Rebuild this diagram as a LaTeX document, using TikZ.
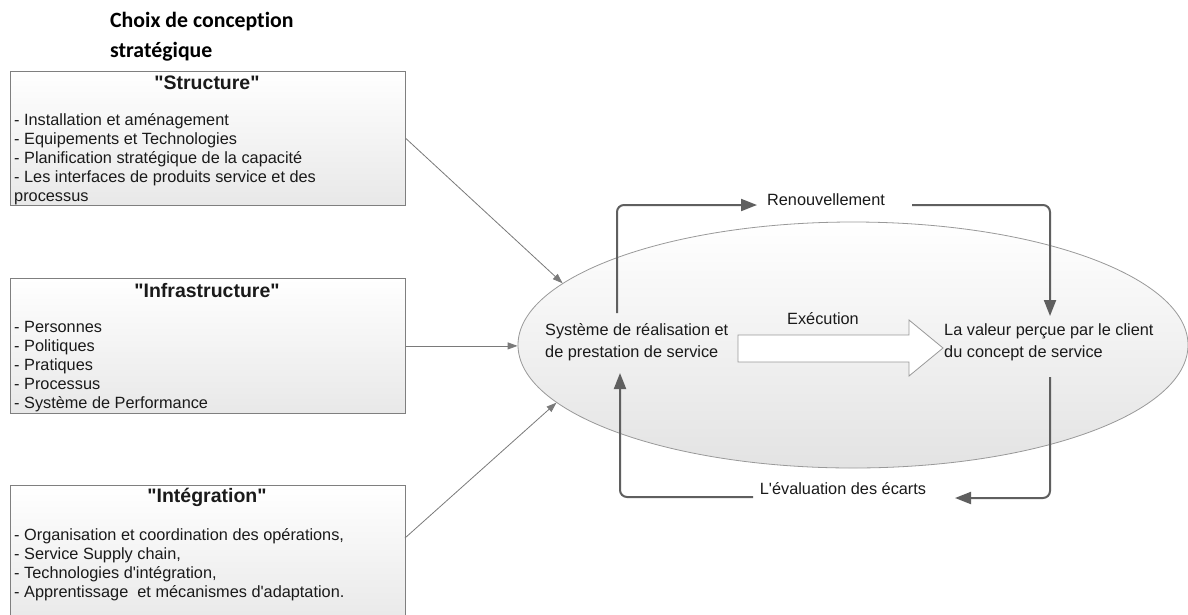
\documentclass[tikz,border=0pt]{standalone}
\usepackage{fontspec}
\setmainfont{Liberation Sans}
\newfontfamily\calfont{Carlito}[Ligatures={NoCommon}]
\usetikzlibrary{arrows.meta,shapes.geometric}
\definecolor{boxborder}{HTML}{7F7F7F}
\definecolor{loopgray}{HTML}{5F5F5F}
\definecolor{thingray}{HTML}{7A7A7A}
\definecolor{txt}{HTML}{1A1A1A}
\begin{document}
\begin{tikzpicture}[x=1pt,y=-1pt]
\tikzset{
  panel/.style={draw=boxborder, line width=0.8pt, top color=white, bottom color=black!9,
    inner sep=0pt, anchor=north west, minimum width=395pt},
  ptitle/.style={font=\fontsize{19.5}{22}\selectfont\bfseries, inner sep=0pt, anchor=base, text=txt},
  plist/.style={font=\fontsize{16.3}{19}\selectfont, align=left, anchor=north west, inner sep=0pt, text=txt},
  inarrow/.style={draw=thingray, line width=0.8pt, -{Triangle[length=10pt,width=7pt]}},
  loopline/.style={draw=loopgray, line width=2pt, rounded corners=7pt},
  looptip/.style={-{Triangle[length=16pt,width=12pt]}},
  lbl/.style={font=\fontsize{16.3}{19}\selectfont, inner sep=0pt, anchor=base, text=txt},
  inner/.style={font=\fontsize{16.3}{22}\selectfont, align=left, anchor=north west, inner sep=0pt, text=txt},
}
\useasboundingbox (0,0) rectangle (1188,614);
\fill[white] (0,0) rectangle (1188,614);

% heading
\node[font=\calfont\bfseries\fontsize{21.8}{30}\selectfont, anchor=base west, inner sep=0pt] (h1) at (110,27) {Choix de conception};
\node[font=\calfont\bfseries\fontsize{21.8}{30}\selectfont, anchor=base west, inner sep=0pt] (h2) at (110,57) {stratégique};

% panels
\node[panel, minimum height=134pt] (s) at (10,71) {};
\node[panel, minimum height=135pt] (i) at (10,278) {};
\node[panel, minimum height=140pt] (g) at (10,485) {};

\node[ptitle] (st) at (207,89) {\textquotedbl Structure\textquotedbl};
\node[plist] (sl) at (14,112) {\strut- Installation et aménagement\\- Equipements et Technologies\\- Planification stratégique de la capacité\\- Les interfaces de produits service et des\\processus};

\node[ptitle] (it) at (207,297) {\textquotedbl Infrastructure\textquotedbl};
\node[plist] (il) at (14,319) {\strut- Personnes\\- Politiques\\- Pratiques\\- Processus\\- Système de Performance};

\node[ptitle] (gt) at (207,502) {\textquotedbl Intégration\textquotedbl};
\node[plist] (gl) at (14,527) {\strut- Organisation et coordination des opérations,\\- Service Supply chain,\\- Technologies d\textquotesingle intégration,\\- Apprentissage\ \ et mécanismes d\textquotesingle adaptation.};

% ellipse
\node[ellipse, minimum width=670pt, minimum height=246pt, inner sep=0pt, draw=black!40, line width=0.8pt,
      top color=white, bottom color=black!11] (e) at (853,345) {};

\node[inner] (sys) at (545,319.6) {\strut Système de réalisation et\\de prestation de service};
\node[inner] (val) at (944,319.6) {\strut La valeur perçue par le client\\du concept de service};

% execution block arrow
\draw[draw=black!40, fill=white, line width=0.8pt]
  (738,335) -- (909,335) -- (909,320) -- (943,348) -- (909,376) -- (909,362) -- (738,362) -- cycle;
\node[lbl] (ex) at (823,324) {Exécution};

% input arrows
\coordinate (g0) at (405,538);
\draw[inarrow] (s.east) -- (e.168.9);
\draw[inarrow] (i.east) -- (i.east -| e.west);
\draw[inarrow] (g0) -- (e.191.1);

% renewal loop
\node[lbl] (ren) at (826,205.5) {Renouvellement};
\coordinate (r0) at (617,313);
\coordinate (r1) at (757,205);
\coordinate (r2) at (912,205);
\coordinate (r3) at (1050,316);
\draw[loopline, looptip] (r0) |- (r1);
\draw[loopline, looptip] (r2) -| (r3);

% evaluation loop
\node[lbl] (ev) at (843,494.5) {L\textquotesingle évaluation des écarts};
\coordinate (b0) at (1050,377);
\coordinate (b1) at (955,498);
\coordinate (b2) at (753,497);
\coordinate (b3) at (620,373);
\draw[loopline, looptip] (b0) |- (b1);
\draw[loopline, looptip] (b2) -| (b3);
\end{tikzpicture}
\end{document}
